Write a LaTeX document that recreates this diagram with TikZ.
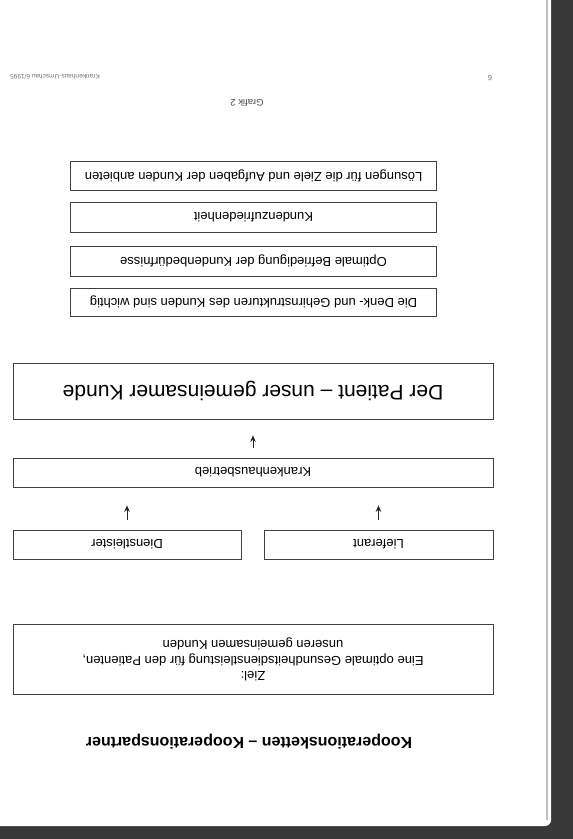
\documentclass[tikz,border=0pt]{standalone}
\usepackage{fontspec}
\setmainfont{Liberation Sans}
\usetikzlibrary{arrows.meta}
\begin{document}
\begin{tikzpicture}[x=1pt,y=-1pt,
  box/.style={draw=black!75,line width=0.7pt,inner sep=0pt,rotate=180,
    font=\fontsize{13}{15}\selectfont},
  arr/.style={-{Stealth[length=6.5pt,width=5.5pt]},line width=1pt,black!85}]
\useasboundingbox (0,0) rectangle (573,839);
% scanner background and page
\fill[black!78] (0,0) rectangle (573,839);
\fill[white] (0,0) -- (551,0) {[rounded corners=6pt] -- (551,826)} -- (0,826) -- cycle;
\draw[black!25,line width=1.2pt] (547,0) -- (547,820);
% page header (upside down)
\node[rotate=180,black!55,font=\fontsize{6.5}{7}\selectfont] (hdr) at (55,77) {Krankenhaus-Umschau 6/1995};
\node[rotate=180,black!60,font=\fontsize{7.5}{8}\selectfont] (pg) at (490,78) {6};
\node[rotate=180,black!70,font=\fontsize{9.5}{10}\selectfont] (graf) at (247,103) {Grafik 2};
% upper list of boxes
\node[box,minimum width=366pt,minimum height=29pt] (loes) at (253.5,176) {Lösungen für die Ziele und Aufgaben der Kunden anbieten};
\node[box,minimum width=366pt,minimum height=30pt] (zuf) at (253.5,217) {Kundenzufriedenheit};
\node[box,minimum width=366pt,minimum height=30pt] (opt) at (253.5,261) {Optimale Befriedigung der Kundenbedürfnisse};
\node[box,minimum width=366pt,minimum height=28pt] (denk) at (253.5,302) {Die Denk- und Gehirnstrukturen des Kunden sind wichtig};
% chain
\node[box,minimum width=480pt,minimum height=56pt,font=\fontsize{21}{25}\selectfont] (pat) at (253,391) {Der Patient – unser gemeinsamer Kunde};
\node[box,minimum width=480pt,minimum height=29pt] (kh) at (253,472.5) {Krankenhausbetrieb};
\node[box,minimum width=228pt,minimum height=29pt] (dl) at (127,544.5) {Dienstleister};
\node[box,minimum width=229pt,minimum height=29pt] (lf) at (378.5,544.5) {Lieferant};
\draw[arr,shorten <=10pt,shorten >=16pt] (kh.south) -- (pat.north);
\draw[arr,shorten <=10pt,shorten >=18pt] (dl.south) -- (kh.north -| dl.south);
\draw[arr,shorten <=10pt,shorten >=18pt] (lf.south) -- (kh.north -| lf.south);
% goal box
\node[box,minimum width=480pt,minimum height=70pt,align=center,font=\fontsize{13}{15.5}\selectfont] (ziel) at (253,659.5) {Ziel:\\Eine optimale Gesundheitsdienstleistung für den Patienten,\\unseren gemeinsamen Kunden};
% title
\node[rotate=180,font=\bfseries\fontsize{16}{18}\selectfont] (title) at (249,742) {Kooperationsketten – Kooperationspartner};
\end{tikzpicture}
\end{document}
